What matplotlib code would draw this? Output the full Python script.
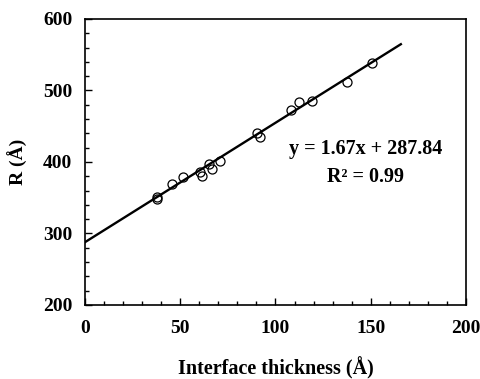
import matplotlib
matplotlib.use("Agg")
import matplotlib.pyplot as plt
import matplotlib.ticker as ticker
import numpy as np

# data
thickness = [37.7, 37.9, 45.9, 51.7, 60.5, 61.4, 65.3, 66.7, 71.1,
             90.4, 91.7, 108.4, 112.6, 119.3, 137.7, 150.4]
radius = [348.4, 350.5, 369.4, 378.7, 385.7, 381.0, 397.5, 390.5, 402.0,
          440.4, 434.8, 472.3, 484.0, 485.4, 512.0, 537.8]
slope = 1.67
intercept = 287.84
fit_range = [0, 165.8]

plt.rcParams["font.family"] = ["Liberation Serif", "DejaVu Serif"]
plt.rcParams["font.weight"] = "bold"

fig = plt.figure(figsize=(4.81, 3.79), dpi=100)
ax = fig.add_axes([0.1767, 0.1953, 0.7921, 0.7546])

fx = np.array(fit_range)
ax.plot(fx, slope * fx + intercept, color="black", linewidth=1.7, zorder=2)
ax.plot(thickness, radius, linestyle="none", marker="o", markersize=6.5,
        markerfacecolor="none", markeredgecolor="black", markeredgewidth=0.9,
        zorder=3)

ax.set_xlim(0, 200)
ax.set_ylim(200, 600)
ax.xaxis.set_major_locator(ticker.MultipleLocator(50))
ax.xaxis.set_minor_locator(ticker.MultipleLocator(10))
ax.yaxis.set_major_locator(ticker.MultipleLocator(100))
ax.yaxis.set_minor_locator(ticker.MultipleLocator(20))

ax.tick_params(which="both", direction="in", top=False, right=False,
               width=1.0, labelsize=14)
ax.tick_params(which="major", length=5)
ax.tick_params(which="minor", length=3)
ax.tick_params(axis="x", pad=11)
ax.tick_params(axis="y", pad=9)
for lab in ax.get_xticklabels() + ax.get_yticklabels():
    lab.set_fontweight("bold")

for sp in ax.spines.values():
    sp.set_linewidth(1.2)

ax.set_xlabel("Interface thickness (Å)", fontsize=14.5, fontweight="bold", labelpad=14)
ax.set_ylabel("R (Å)", fontsize=14, fontweight="bold", labelpad=11)

ax.text(0.737, 0.544, "y = 1.67x + 287.84", transform=ax.transAxes,
        ha="center", va="center", fontsize=14.5, fontweight="bold")
ax.text(0.737, 0.446, "R² = 0.99", transform=ax.transAxes,
        ha="center", va="center", fontsize=14.5, fontweight="bold")

fig.savefig("out.png", dpi=100)
